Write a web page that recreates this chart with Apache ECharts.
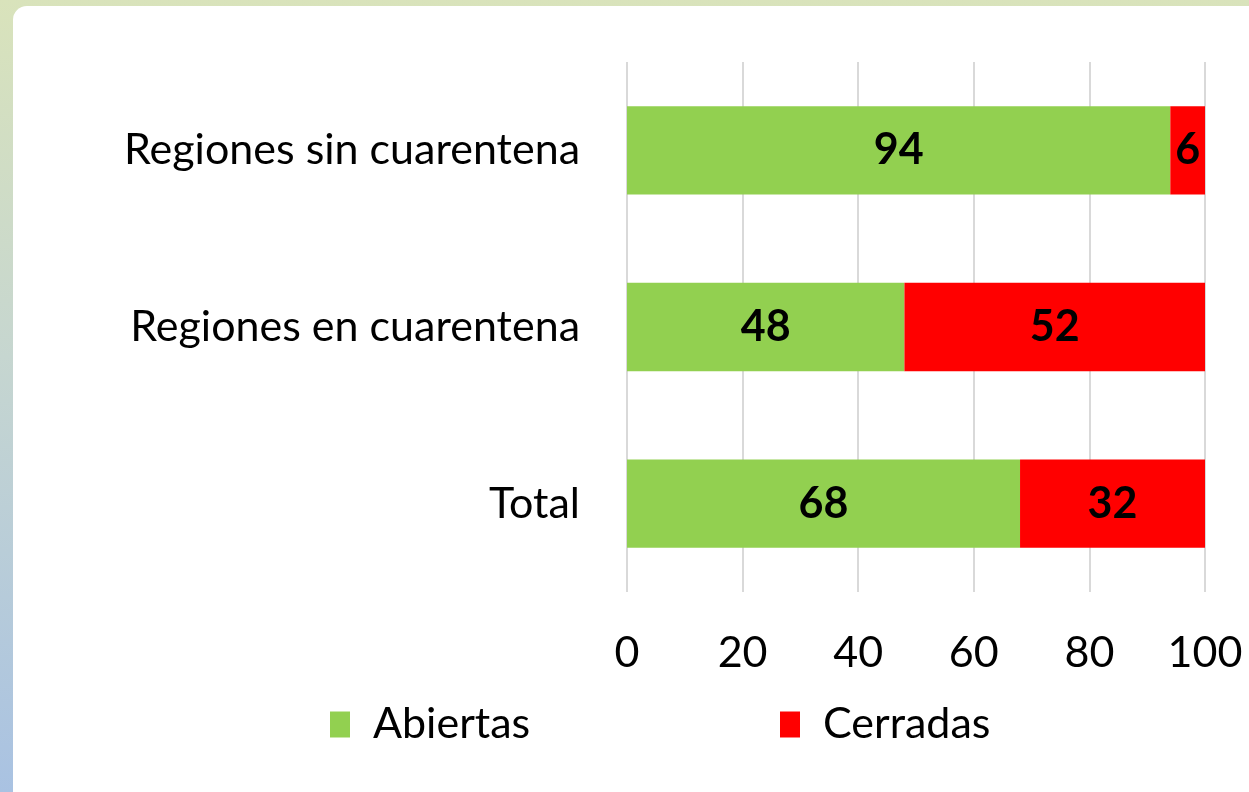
<!DOCTYPE html>
<html lang="es">
<head>
    <meta charset="UTF-8">
    <title>Abiertas / Cerradas</title>
    <style>
        html, body { margin: 0; padding: 0; }
        #bg {
            position: absolute; left: 0; top: 0; width: 1249px; height: 792px;
            background: linear-gradient(to bottom, #d9e3bb 0%, #c6d6d0 45%, #a9c2e2 100%);
            overflow: hidden;
        }
        #card {
            position: absolute; left: 13px; top: 6px; width: 1260px; height: 800px;
            background: #ffffff; border-radius: 14px;
        }
        #main { position: absolute; left: 0; top: 0; width: 1249px; height: 792px; }
    </style>
</head>
<body>
    <div id="bg"><div id="card"></div></div>
    <div id="main"></div>
<script src="https://cdn.jsdelivr.net/npm/echarts@6/dist/echarts.min.js"></script>
<script type="text/javascript">
    // datos
    var categorias = ['Regiones sin cuarentena', 'Regiones en cuarentena', 'Total'];
    var abiertas = [94, 48, 68];
    var cerradas = [6, 52, 32];
    var ticks = [0, 20, 40, 60, 80, 100];

    var fuente = 'Lato';
    var tam = 43;
    var myChart = echarts.init(document.getElementById('main'), null, {renderer: 'canvas'});

    var etiqueta = {
        show: true,
        position: 'inside',
        color: '#000',
        fontFamily: fuente,
        fontWeight: 'bold',
        fontSize: tam
    };

    var option = {
        backgroundColor: 'transparent',
        animation: false,
        grid: { left: 627, right: 44, top: 62, bottom: 200 },
        legend: [
            {
                data: ['Abiertas'], left: 325, top: 698,
                itemWidth: 20, itemHeight: 26, icon: 'rect',
                textStyle: { fontFamily: fuente, fontSize: tam, color: '#000', padding: [0, 0, 0, 18] }
            },
            {
                data: ['Cerradas'], left: 775, top: 698,
                itemWidth: 20, itemHeight: 26, icon: 'rect',
                textStyle: { fontFamily: fuente, fontSize: tam, color: '#000', padding: [0, 0, 0, 18] }
            }
        ],
        xAxis: {
            type: 'value', min: ticks[0], max: ticks[ticks.length - 1], interval: 20,
            axisLine: { show: false }, axisTick: { show: false },
            splitLine: { lineStyle: { color: '#d9d9d9', width: 2 } },
            axisLabel: { fontFamily: fuente, fontSize: tam, color: '#000', margin: 40 }
        },
        yAxis: {
            type: 'category', data: categorias, inverse: true,
            axisLine: { show: false }, axisTick: { show: false },
            axisLabel: { fontFamily: fuente, fontSize: tam, color: '#000', margin: 47 }
        },
        series: [
            {
                name: 'Abiertas', type: 'bar', stack: 'total', data: abiertas,
                barCategoryGap: '50%',
                itemStyle: { color: '#92d050' }, label: etiqueta
            },
            {
                name: 'Cerradas', type: 'bar', stack: 'total', data: cerradas,
                itemStyle: { color: '#ff0000' }, label: etiqueta
            }
        ]
    };
    myChart.setOption(option);
</script>
</body>
</html>
